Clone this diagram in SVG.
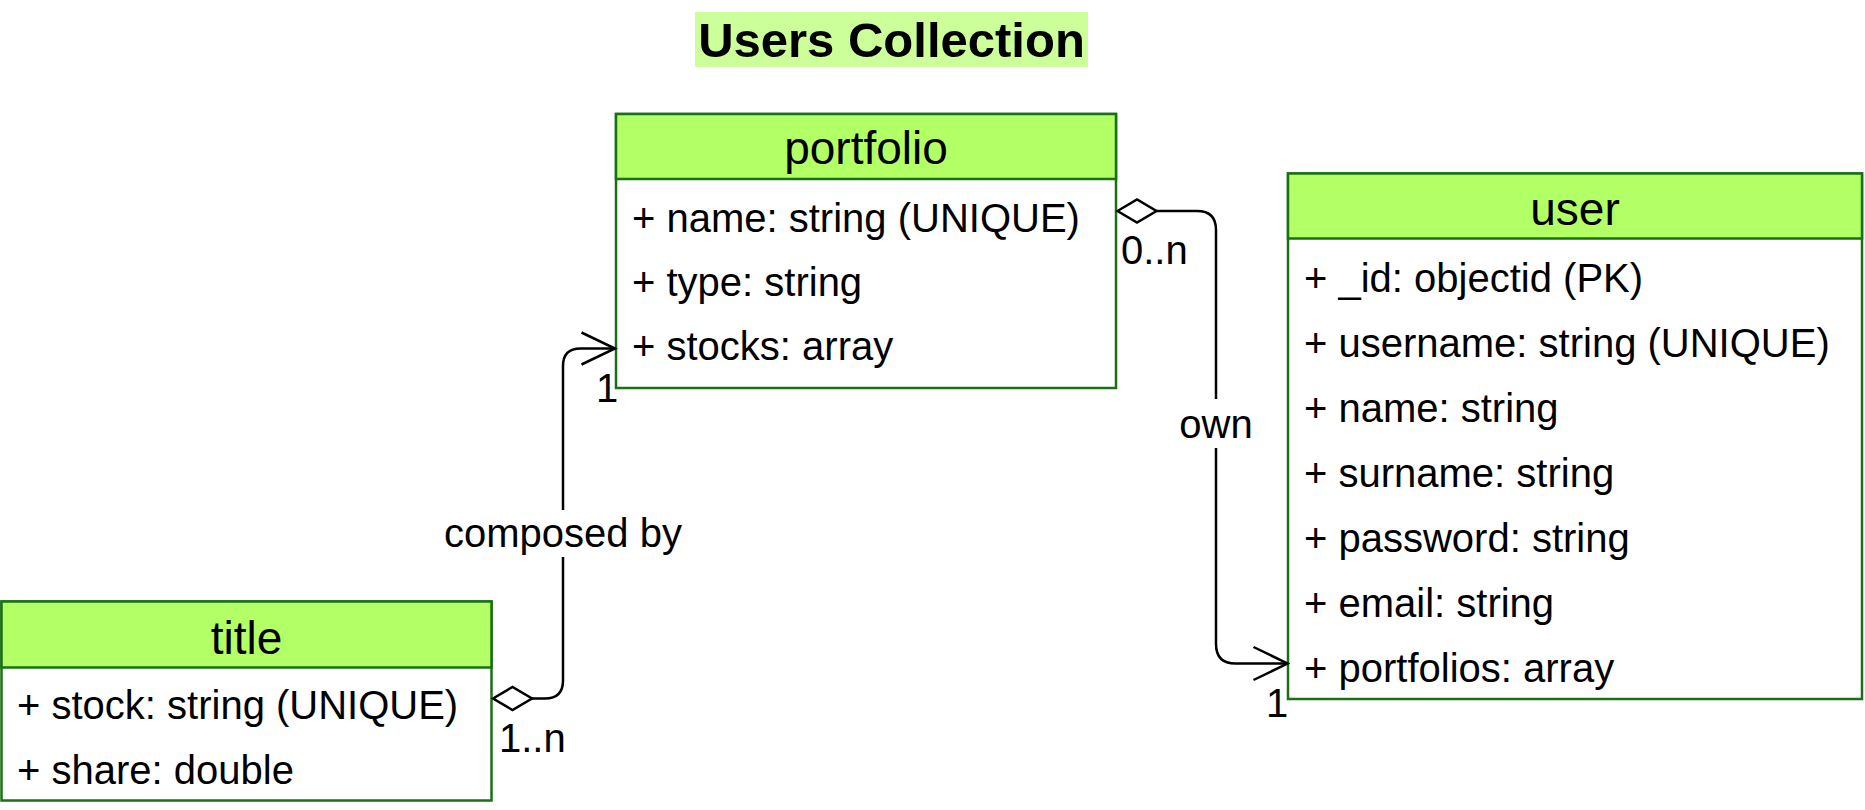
<svg xmlns="http://www.w3.org/2000/svg" width="1865" height="810" viewBox="0 0 1865 810">
<style>
text{font-family:"Liberation Sans",Arial,sans-serif;fill:#000}
.hdr{fill:#B3FF66;stroke:#1a7014;stroke-width:2.5}
.body{fill:#fff;stroke:#1a7014;stroke-width:2.5}
.htxt{font-size:46px;text-anchor:middle}
.row{font-size:40px}
.lbl{font-size:40px}
.edge{fill:none;stroke:#000;stroke-width:2.5}
.dia{fill:#fff;stroke:#000;stroke-width:2.5}
</style>
<rect width="1865" height="810" fill="#fff"/>
<g id="heading">
<rect x="695" y="12" width="393" height="55" fill="#CCFF99"/>
<text x="891.5" y="57" font-size="49" font-weight="bold" text-anchor="middle">Users Collection</text>
</g>
<g id="portfolio">
<rect class="body" x="616" y="114" width="500" height="274"/>
<rect class="hdr" x="616" y="114" width="500" height="65"/>
<text class="htxt" x="866" y="164">portfolio</text>
<text class="row" x="632" y="232">+ name: string (UNIQUE)</text>
<text class="row" x="632" y="296">+ type: string</text>
<text class="row" x="632" y="360">+ stocks: array</text>
</g>
<g id="user">
<rect class="body" x="1288" y="173.5" width="574" height="525.5"/>
<rect class="hdr" x="1288" y="173.5" width="574" height="65"/>
<text class="htxt" x="1575" y="225">user</text>
<text class="row" x="1304" y="291.5">+ _id: objectid (PK)</text>
<text class="row" x="1304" y="356.5">+ username: string (UNIQUE)</text>
<text class="row" x="1304" y="421.5">+ name: string</text>
<text class="row" x="1304" y="486.5">+ surname: string</text>
<text class="row" x="1304" y="551.5">+ password: string</text>
<text class="row" x="1304" y="616.5">+ email: string</text>
<text class="row" x="1304" y="681.5">+ portfolios: array</text>
</g>
<g id="title">
<rect class="body" x="1.5" y="601.5" width="490" height="199"/>
<rect class="hdr" x="1.5" y="601.5" width="490" height="66"/>
<text class="htxt" x="246.5" y="653.5">title</text>
<text class="row" x="17" y="719">+ stock: string (UNIQUE)</text>
<text class="row" x="17" y="784">+ share: double</text>
</g>
<g id="connectors">
<g id="edge-own">
<path class="edge" d="M1156.5,211 H1197 Q1216,211 1216,230 V399"/>
<path class="edge" d="M1216,448 V644 Q1216,663.5 1235.5,663.5 H1287"/>
<polygon class="dia" points="1117.5,211 1137,199.5 1156.5,211 1137,222.5"/>
<polyline class="edge" points="1253.5,647 1287.5,663.5 1253.5,680"/>
<text class="lbl" x="1216" y="438" text-anchor="middle">own</text>
<text class="lbl" x="1121" y="264">0..n</text>
<text class="lbl" x="1266" y="717">1</text>
</g>
<g id="edge-composed">
<path class="edge" d="M532,698.5 H545 Q563,698.5 563,680.5 V557"/>
<path class="edge" d="M563,510 V366 Q563,348.5 580.5,348.5 H614.5"/>
<polygon class="dia" points="493,698.5 512.5,687 532,698.5 512.5,710"/>
<polyline class="edge" points="581.5,332.5 615,348.5 581.5,364.5"/>
<text class="lbl" x="563" y="547" text-anchor="middle">composed by</text>
<text class="lbl" x="596" y="401.5">1</text>
<text class="lbl" x="499" y="752">1..n</text>
</g>
</g>
</svg>
